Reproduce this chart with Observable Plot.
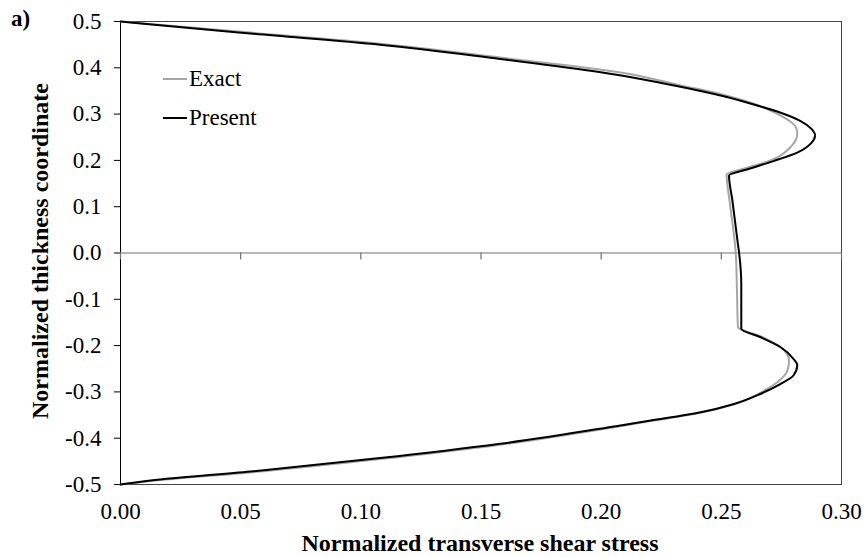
<!DOCTYPE html>
<html><head><meta charset="utf-8">
<script src="https://cdn.jsdelivr.net/npm/d3@7"></script>
<script src="https://cdn.jsdelivr.net/npm/@observablehq/plot@0.6"></script>
<style>body{margin:0;background:#fff;} #chart{width:866px;height:557px;}</style>
</head><body><div id="chart"></div>
<script>
// Present (black) curve: normalized transverse shear stress vs. thickness coordinate
const presentX = [0, 0.0096, 0.054, 0.108, 0.158, 0.1998, 0.2164, 0.233, 0.2497, 0.262, 0.2747, 0.283, 0.2875, 0.289, 0.2875, 0.282, 0.272, 0.261, 0.2532, 0.2546, 0.2567, 0.2574, 0.2583, 0.2583, 0.2664, 0.2747, 0.280, 0.2816, 0.280, 0.2747, 0.2664, 0.2553, 0.2414, 0.2206, 0.208, 0.158, 0.108, 0.054, 0.0125, 0];
const presentY = [0.5, 0.495, 0.474, 0.450, 0.419, 0.3905, 0.376, 0.359, 0.340, 0.323, 0.303, 0.285, 0.268, 0.254, 0.238, 0.218, 0.199, 0.181, 0.1674, 0.1134, 0.027, 0.0, -0.066, -0.1637, -0.182, -0.2035, -0.2286, -0.242, -0.2646, -0.2826, -0.304, -0.326, -0.344, -0.362, -0.3725, -0.412, -0.443, -0.472, -0.4915, -0.5];
// Exact (grey) curve
const exactX = [0, 0.01, 0.054, 0.108, 0.158, 0.208, 0.233, 0.25, 0.262, 0.2733, 0.281, 0.2816, 0.2788, 0.2705, 0.2593, 0.2522, 0.2535, 0.256, 0.2565, 0.2569, 0.2664, 0.2747, 0.2782, 0.2775, 0.2733, 0.2691, 0.2553, 0.2414, 0.2206, 0.208, 0.158, 0.108, 0.054, 0.0125, 0];
const exactY = [0.5, 0.4955, 0.476, 0.452, 0.422, 0.39, 0.362, 0.343, 0.325, 0.3007, 0.272, 0.2574, 0.2286, 0.1998, 0.182, 0.1695, 0.11, 0.0, -0.08, -0.160, -0.18, -0.2035, -0.232, -0.2538, -0.279, -0.2934, -0.327, -0.345, -0.363, -0.374, -0.414, -0.445, -0.474, -0.4925, -0.5];

const xTicks = [0, 0.05, 0.10, 0.15, 0.20, 0.25, 0.30];
const yTicks = [-0.5, -0.4, -0.3, -0.2, -0.1, 0, 0.1, 0.2, 0.3, 0.4, 0.5];
const seriesNames = ["Exact", "Present"];
const seriesColors = ["#a6a6a6", "#000000"];
const xTitle = "Normalized transverse shear stress";
const yTitle = "Normalized thickness coordinate";
const panelLabel = "a)";

const present = presentX.map((x, i) => ({x, y: presentY[i]}));
const exact = exactX.map((x, i) => ({x, y: exactY[i]}));

const FONT = "'Liberation Serif', 'Times New Roman', serif";

const svg = Plot.plot({
  width: 866, height: 557,
  marginLeft: 120, marginRight: 25, marginTop: 21, marginBottom: 73,
  style: {fontFamily: FONT, fontSize: "23px", color: "#000", background: "#fff", overflow: "visible"},
  x: {domain: [0, 0.3], ticks: xTicks, tickFormat: d => d.toFixed(2), tickSize: 0, tickPadding: 18, label: null},
  y: {domain: [-0.5, 0.5], ticks: yTicks, tickFormat: d => d.toFixed(1), tickSize: 6, tickPadding: 13, label: null},
  marks: [
    Plot.frame({stroke: "#444", strokeWidth: 1}),
    Plot.ruleX([0], {stroke: "#000", strokeWidth: 1}),
    Plot.ruleY([0], {stroke: "#707070", strokeWidth: 1.2}),
    Plot.ruleX(xTicks, {x: d => d, y1: 0, y2: -0.015, stroke: "#707070", strokeWidth: 1.2}),
    Plot.line(exact, {x: "x", y: "y", stroke: seriesColors[0], strokeWidth: 2, curve: "monotone-y"}),
    Plot.line(present, {x: "x", y: "y", stroke: seriesColors[1], strokeWidth: 2, curve: "monotone-y"})
  ]
});
document.getElementById("chart").appendChild(svg);

const s = d3.select(svg);
// axis titles
s.append("text").attr("x", 480).attr("y", 551).attr("text-anchor", "middle")
  .attr("font-family", FONT).attr("font-weight", "bold").attr("font-size", "24px").text(xTitle);
s.append("text").attr("transform", "translate(48,251) rotate(-90)").attr("text-anchor", "middle")
  .attr("font-family", FONT).attr("font-weight", "bold").attr("font-size", "24px").text(yTitle);
s.append("text").attr("x", 11).attr("y", 26).attr("text-anchor", "start")
  .attr("font-family", FONT).attr("font-weight", "bold").attr("font-size", "23px").text(panelLabel);
// legend
const leg = s.append("g");
seriesNames.forEach((name, i) => {
  const yy = 79 + i * 39;
  leg.append("line").attr("x1", 163).attr("x2", 187).attr("y1", yy).attr("y2", yy)
    .attr("stroke", seriesColors[i]).attr("stroke-width", 2);
  leg.append("text").attr("x", 189).attr("y", yy + 7).attr("text-anchor", "start")
    .attr("font-family", FONT).attr("font-size", "23px").text(name);
});
</script>
</body></html>
